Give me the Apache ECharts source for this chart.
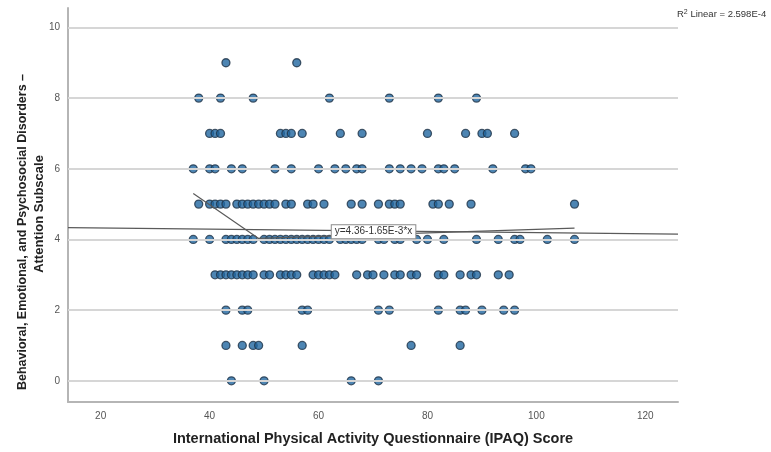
<!DOCTYPE html>
<html>
<head>
<meta charset="utf-8">
<script src="https://cdn.jsdelivr.net/npm/echarts@6/dist/echarts.min.js"></script>
<style>
  html, body { margin: 0; padding: 0; background: #ffffff; }
  #chart { width: 771px; height: 452px; }
</style>
</head>
<body>
<div id="chart"></div>
<script>
// IPAQ scores of respondents, grouped by their Attention Subscale score
const ipaqAtScore0 = [44, 50, 66, 71];
const ipaqAtScore1 = [43, 46, 48, 49, 57, 77, 86];
const ipaqAtScore2 = [43, 46, 47, 57, 58, 71, 73, 82, 86, 87, 90, 94, 96];
const ipaqAtScore3 = [41, 42, 43, 44, 45, 46, 47, 48, 50, 51, 53, 54, 55, 56, 59, 60, 61, 62, 63,
                      67, 69, 70, 72, 74, 75, 77, 78, 82, 83, 86, 88, 89, 93, 95];
const ipaqAtScore4 = [37, 40, 43, 44, 45, 46, 47, 48, 50, 51, 52, 53, 54, 55, 56, 57, 58, 59, 60,
                      61, 62, 64, 65, 66, 67, 68, 71, 72, 74, 75, 78, 80, 83, 89, 93, 96, 97, 102, 107];
const ipaqAtScore5 = [38, 40, 41, 42, 43, 45, 46, 47, 48, 49, 50, 51, 52, 54, 55, 58, 59, 61, 66,
                      68, 71, 73, 74, 75, 81, 82, 84, 88, 107];
const ipaqAtScore6 = [37, 40, 41, 44, 46, 52, 55, 60, 63, 65, 67, 68, 73, 75, 77, 79, 82, 83, 85,
                      92, 98, 99];
const ipaqAtScore7 = [40, 41, 42, 53, 54, 55, 57, 64, 68, 80, 87, 90, 91, 96];
const ipaqAtScore8 = [38, 42, 48, 62, 73, 82, 89];
const ipaqAtScore9 = [43, 56];

const scoreGroups = [ipaqAtScore0, ipaqAtScore1, ipaqAtScore2, ipaqAtScore3, ipaqAtScore4,
                     ipaqAtScore5, ipaqAtScore6, ipaqAtScore7, ipaqAtScore8, ipaqAtScore9];

// Linear fit: y = 4.36 - 1.65E-3 * x
const fitIntercept = 4.36;
const fitSlope = -1.65e-3;
const fitLabel = 'y=4.36-1.65E-3*x';
const rSquaredText = '2.598E-4';

// Second (smoothed) fit line vertices
const smoothLine = [[37, 5.3], [49, 4.03], [107, 4.32]];

// Axis ranges and tick labels
const xRange = [14, 126];
const yRange = [-0.6, 10.55];
const xTicks = [20, 40, 60, 80, 100, 120];
const yTicks = [0, 2, 4, 6, 8, 10];

const points = [];
scoreGroups.forEach((group, score) => {
  group.forEach(v => points.push([v, score]));
});

const fitLine = [
  [xRange[0], fitIntercept + fitSlope * xRange[0]],
  [xRange[1], fitIntercept + fitSlope * xRange[1]]
];

const chart = echarts.init(document.getElementById('chart'), null, { renderer: 'canvas' });

const FONT = 'Liberation Sans, Arial, sans-serif';
const tickLabelStyle = { color: '#555555', fontSize: 10, fontFamily: FONT };

chart.setOption({
  backgroundColor: '#ffffff',
  animation: false,
  grid: { left: 68, right: 93, top: 8, bottom: 50 },
  xAxis: {
    type: 'value',
    min: xRange[0],
    max: xRange[1],
    axisLine: { onZero: false, lineStyle: { color: '#b5b5b5', width: 2 } },
    axisTick: { show: false },
    splitLine: { show: false },
    axisLabel: Object.assign({ customValues: xTicks, margin: 9 }, tickLabelStyle)
  },
  yAxis: {
    type: 'value',
    min: yRange[0],
    max: yRange[1],
    axisLine: { show: true, onZero: false, lineStyle: { color: '#b5b5b5', width: 2 } },
    axisTick: { show: false },
    splitLine: { show: false },
    axisLabel: Object.assign({ customValues: yTicks, margin: 8 }, tickLabelStyle)
  },
  series: [
    {
      // horizontal reference lines at each labelled score
      type: 'line',
      data: [],
      silent: true,
      markLine: {
        silent: true,
        symbol: ['none', 'none'],
        label: { show: false },
        lineStyle: { color: '#d6d6d6', width: 2, type: 'solid' },
        data: yTicks.map(t => ({ yAxis: t }))
      }
    },
    {
      type: 'scatter',
      data: points,
      symbol: 'circle',
      symbolSize: 8,
      itemStyle: { color: '#2167a0', borderColor: '#1f3347', borderWidth: 1.3 },
      z: 3
    },
    {
      type: 'line',
      data: smoothLine,
      symbol: 'none',
      lineStyle: { color: '#5a5a5a', width: 1.2 },
      silent: true,
      z: 4
    },
    {
      type: 'line',
      data: fitLine,
      symbol: 'none',
      lineStyle: { color: '#5a5a5a', width: 1.2 },
      silent: true,
      z: 4,
      markPoint: {
        silent: true,
        symbol: 'rect',
        symbolSize: 1,
        itemStyle: { color: 'rgba(0,0,0,0)' },
        label: {
          show: true,
          position: 'inside',
          formatter: fitLabel,
          color: '#333333',
          fontSize: 10,
          fontFamily: FONT,
          backgroundColor: '#ffffff',
          borderColor: '#8a8a8a',
          borderWidth: 1,
          padding: [2, 3, 1, 3]
        },
        data: [{ coord: [70.1, 4.22] }]
      }
    }
  ],
  graphic: [
    {
      type: 'text',
      left: 677,
      top: 9,
      style: {
        text: '{t|R}{s|2}{t| Linear = ' + rSquaredText + '}',
        rich: {
          t: { fontSize: 9.5, fill: '#333333', fontFamily: FONT },
          s: { fontSize: 7, fill: '#333333', fontFamily: FONT, verticalAlign: 'top', padding: [0, 0, 4, 0] }
        }
      }
    },
    {
      type: 'text',
      x: 373,
      y: 439,
      style: {
        text: 'International Physical Activity Questionnaire (IPAQ) Score',
        align: 'center',
        verticalAlign: 'middle',
        fontSize: 14.5,
        fontWeight: 'bold',
        fill: '#222222',
        fontFamily: FONT
      }
    },
    {
      type: 'text',
      x: 23,
      y: 232,
      rotation: Math.PI / 2,
      style: {
        text: 'Behavioral, Emotional, and Psychosocial Disorders –',
        align: 'center',
        verticalAlign: 'middle',
        fontSize: 12.5,
        fontWeight: 'bold',
        fill: '#222222',
        fontFamily: FONT
      }
    },
    {
      type: 'text',
      x: 39,
      y: 214,
      rotation: Math.PI / 2,
      style: {
        text: 'Attention Subscale',
        align: 'center',
        verticalAlign: 'middle',
        fontSize: 13,
        fontWeight: 'bold',
        fill: '#222222',
        fontFamily: FONT
      }
    }
  ]
});
</script>
</body>
</html>
